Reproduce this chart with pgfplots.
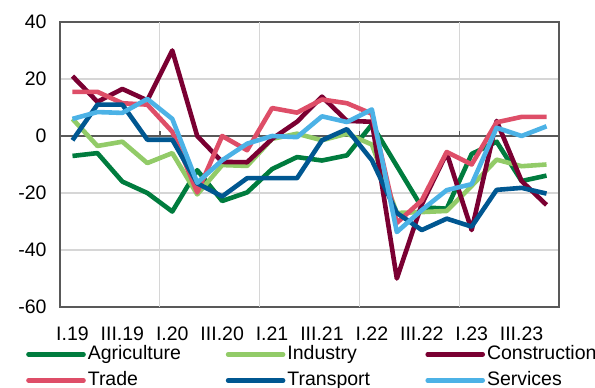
\documentclass[border=0pt]{standalone}
\usepackage{pgfplots}
\pgfplotsset{compat=1.18}
\usepackage{fontspec}
\setmainfont{Liberation Sans}

\definecolor{cAgri}{RGB}{0,124,62}
\definecolor{cInd}{RGB}{146,203,104}
\definecolor{cCons}{RGB}{122,0,50}
\definecolor{cTrade}{RGB}{222,78,104}
\definecolor{cTrans}{RGB}{0,87,145}
\definecolor{cServ}{RGB}{76,178,230}
\definecolor{frame}{RGB}{89,89,89}
\definecolor{gridc}{RGB}{214,214,214}

\begin{document}
\begin{tikzpicture}
\path[use as bounding box] (0,0) rectangle (595bp,388bp);
\begin{axis}[
  at={(60bp,81bp)}, anchor=south west,
  scale only axis, width=499bp, height=285bp,
  xmin=-0.5, xmax=19.5, ymin=-60, ymax=40,
  ytick={-60,-40,...,40},
  xtick={0,2,...,18},
  xticklabels={I.19,III.19,I.20,III.20,I.21,III.21,I.22,III.22,I.23,III.23},
  extra x ticks={3.5,7.5,11.5,15.5},
  extra x tick labels={},
  extra x tick style={grid=major, major tick length=0pt},
  major tick length=0pt,
  ymajorgrids,
  grid style={gridc, line width=1.1bp},
  axis line style={frame, line width=1.6bp},
  tick label style={font=\fontsize{19.5bp}{22bp}\selectfont, text=black},
  xticklabel style={yshift=-16bp},
  yticklabel style={xshift=-10bp},
  /pgf/number format/assume math mode=true,
  legend columns=3,
  legend style={at={(-0.0741,-0.128)}, anchor=north west, draw=none, fill=none,
    font=\fontsize{19.5bp}{22bp}\selectfont,
    nodes={inner sep=0pt, text height=13.5bp, text depth=4bp},
    /tikz/every odd column/.append style={column sep=2bp},
    row sep=8.5bp},
  legend cell align=left,
  legend image code/.code={\draw[#1, line cap=round] (0bp,0bp) -- (55bp,0bp);},
  every axis plot/.append style={line width=4.6bp, line join=round},
]
% zero line and year ticks on it
\draw[frame, line width=1.6bp] (axis cs:-0.5,0) -- (axis cs:19.5,0);
\draw[frame, line width=1.4bp] (axis cs:3.5,0) -- (axis cs:3.5,1.9);
\draw[frame, line width=1.4bp] (axis cs:7.5,0) -- (axis cs:7.5,1.9);
\draw[frame, line width=1.4bp] (axis cs:11.5,0) -- (axis cs:11.5,1.9);
\draw[frame, line width=1.4bp] (axis cs:15.5,0) -- (axis cs:15.5,1.9);

\addplot[cAgri] coordinates {(0,-7) (1,-6) (2,-16) (3,-20) (4,-26.5) (5,-12) (6,-22.8) (7,-19.8) (8,-11.6) (9,-7.4) (10,-8.6) (11,-6.8) (12,4) (13,-10.5) (14,-25) (15,-25.5) (16,-6.3) (17,-2) (18,-15.8) (19,-13.9)};
\addlegendentry{\makebox[138bp][l]{Agriculture}}
\addplot[cInd] coordinates {(0,6) (1,-3.5) (2,-2) (3,-9.5) (4,-6) (5,-20.5) (6,-10.2) (7,-10.5) (8,-1) (9,0.8) (10,-1.5) (11,0.8) (12,-3) (13,-27) (14,-26.7) (15,-26.3) (16,-17.5) (17,-8.3) (18,-10.6) (19,-10)};
\addlegendentry{\makebox[138bp][l]{Industry}}
\addplot[cCons] coordinates {(0,21) (1,12) (2,16.5) (3,12.5) (4,30) (5,0) (6,-9.1) (7,-9.2) (8,-1) (9,5) (10,13.8) (11,5.3) (12,5) (13,-50) (14,-24) (15,-6) (16,-33) (17,5.3) (18,-15.8) (19,-24.2)};
\addlegendentry{Construction}
\addplot[cTrade] coordinates {(0,15.5) (1,15.5) (2,11.5) (3,11) (4,1.5) (5,-19.8) (6,0) (7,-5) (8,9.8) (9,8.2) (10,12.8) (11,11.5) (12,7.8) (13,-30.5) (14,-22.6) (15,-5.6) (16,-10) (17,4.8) (18,6.7) (19,6.7)};
\addlegendentry{\makebox[138bp][l]{Trade}}
\addplot[cTrans] coordinates {(0,-1.5) (1,11) (2,11) (3,-1.3) (4,-1.3) (5,-16.6) (6,-21.2) (7,-14.8) (8,-14.8) (9,-14.8) (10,-1.5) (11,2.4) (12,-8.5) (13,-27) (14,-33) (15,-29) (16,-31.8) (17,-18.9) (18,-18.2) (19,-20.2)};
\addlegendentry{\makebox[138bp][l]{Transport}}
\addplot[cServ] coordinates {(0,6) (1,8.4) (2,8.1) (3,13) (4,6) (5,-16.4) (6,-8.5) (7,-2.7) (8,0) (9,-0.4) (10,6.9) (11,4.9) (12,9.3) (13,-33.7) (14,-26) (15,-19) (16,-16.9) (17,2.9) (18,0) (19,3.4)};
\addlegendentry{Services}
\end{axis}
\end{tikzpicture}
\end{document}
